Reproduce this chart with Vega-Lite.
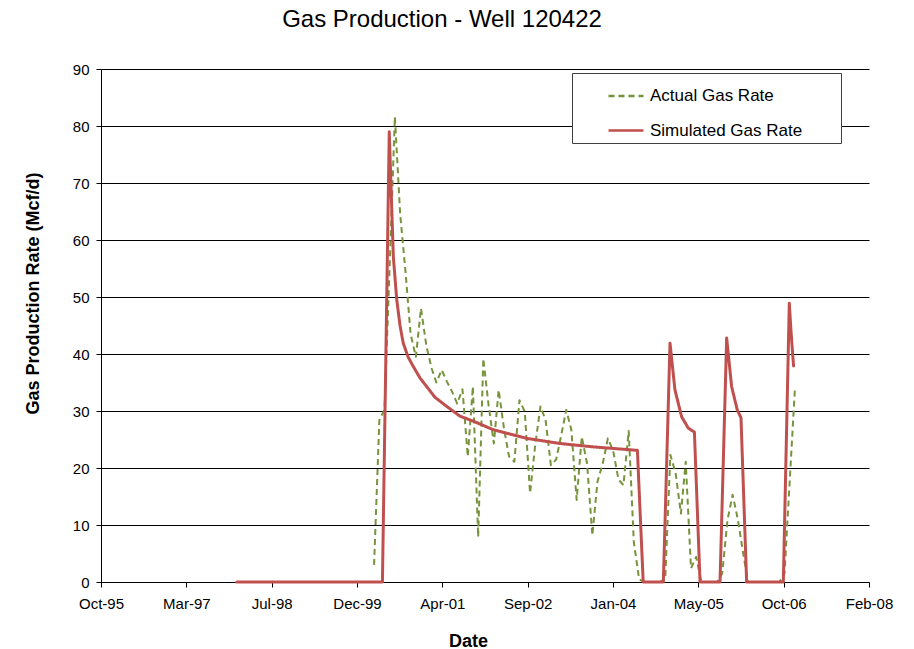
{
  "$schema": "https://vega.github.io/schema/vega-lite/v6.json",
  "width": 768,
  "height": 513,
  "autosize": {"type": "none"},
  "padding": {"left": 101, "top": 69, "right": 45, "bottom": 67},
  "background": "white",
  "config": {
    "font": "Liberation Sans",
    "view": {"stroke": null},
    "legend": {"strokeColor": "#404040"}
  },
  "title": {
    "text": "Gas Production - Well 120422",
    "fontSize": 24,
    "fontWeight": "normal",
    "font": "Liberation Sans",
    "color": "#000",
    "anchor": "middle",
    "dx": -43,
    "offset": 30
  },
  "datasets": {
    "actual": [
      {"series": "Actual Gas Rate", "date": "2000-03-15", "rate": 3},
      {"series": "Actual Gas Rate", "date": "2000-04-15", "rate": 28.4},
      {"series": "Actual Gas Rate", "date": "2000-05-15", "rate": 30.2},
      {"series": "Actual Gas Rate", "date": "2000-06-15", "rate": 56},
      {"series": "Actual Gas Rate", "date": "2000-07-15", "rate": 81.6},
      {"series": "Actual Gas Rate", "date": "2000-08-15", "rate": 64.5},
      {"series": "Actual Gas Rate", "date": "2000-09-15", "rate": 54.5},
      {"series": "Actual Gas Rate", "date": "2000-10-15", "rate": 43.5},
      {"series": "Actual Gas Rate", "date": "2000-11-15", "rate": 39.5},
      {"series": "Actual Gas Rate", "date": "2000-12-15", "rate": 48},
      {"series": "Actual Gas Rate", "date": "2001-01-15", "rate": 41.5},
      {"series": "Actual Gas Rate", "date": "2001-02-15", "rate": 37.5},
      {"series": "Actual Gas Rate", "date": "2001-03-15", "rate": 35},
      {"series": "Actual Gas Rate", "date": "2001-04-15", "rate": 37.2},
      {"series": "Actual Gas Rate", "date": "2001-05-15", "rate": 35.2},
      {"series": "Actual Gas Rate", "date": "2001-06-15", "rate": 33.4},
      {"series": "Actual Gas Rate", "date": "2001-07-15", "rate": 31.3},
      {"series": "Actual Gas Rate", "date": "2001-08-15", "rate": 33.8},
      {"series": "Actual Gas Rate", "date": "2001-09-15", "rate": 22},
      {"series": "Actual Gas Rate", "date": "2001-10-15", "rate": 34.3},
      {"series": "Actual Gas Rate", "date": "2001-11-15", "rate": 7.9},
      {"series": "Actual Gas Rate", "date": "2001-12-15", "rate": 39.2},
      {"series": "Actual Gas Rate", "date": "2002-01-15", "rate": 31},
      {"series": "Actual Gas Rate", "date": "2002-02-15", "rate": 24.3},
      {"series": "Actual Gas Rate", "date": "2002-03-15", "rate": 33.7},
      {"series": "Actual Gas Rate", "date": "2002-04-15", "rate": 27},
      {"series": "Actual Gas Rate", "date": "2002-05-15", "rate": 22},
      {"series": "Actual Gas Rate", "date": "2002-06-15", "rate": 21.1},
      {"series": "Actual Gas Rate", "date": "2002-07-15", "rate": 31.9},
      {"series": "Actual Gas Rate", "date": "2002-08-15", "rate": 29.9},
      {"series": "Actual Gas Rate", "date": "2002-09-15", "rate": 15.6},
      {"series": "Actual Gas Rate", "date": "2002-10-15", "rate": 24},
      {"series": "Actual Gas Rate", "date": "2002-11-15", "rate": 30.8},
      {"series": "Actual Gas Rate", "date": "2002-12-15", "rate": 28.4},
      {"series": "Actual Gas Rate", "date": "2003-01-15", "rate": 20.5},
      {"series": "Actual Gas Rate", "date": "2003-02-15", "rate": 21.5},
      {"series": "Actual Gas Rate", "date": "2003-03-15", "rate": 25.5},
      {"series": "Actual Gas Rate", "date": "2003-04-15", "rate": 30.2},
      {"series": "Actual Gas Rate", "date": "2003-05-15", "rate": 26.7},
      {"series": "Actual Gas Rate", "date": "2003-06-15", "rate": 14.4},
      {"series": "Actual Gas Rate", "date": "2003-07-15", "rate": 25.5},
      {"series": "Actual Gas Rate", "date": "2003-08-15", "rate": 20.8},
      {"series": "Actual Gas Rate", "date": "2003-09-15", "rate": 8.2},
      {"series": "Actual Gas Rate", "date": "2003-10-15", "rate": 17.6},
      {"series": "Actual Gas Rate", "date": "2003-11-15", "rate": 20.8},
      {"series": "Actual Gas Rate", "date": "2003-12-15", "rate": 25.2},
      {"series": "Actual Gas Rate", "date": "2004-01-15", "rate": 23},
      {"series": "Actual Gas Rate", "date": "2004-02-15", "rate": 18},
      {"series": "Actual Gas Rate", "date": "2004-03-15", "rate": 17},
      {"series": "Actual Gas Rate", "date": "2004-04-15", "rate": 26.5},
      {"series": "Actual Gas Rate", "date": "2004-05-15", "rate": 7},
      {"series": "Actual Gas Rate", "date": "2004-06-15", "rate": 0.5},
      {"series": "Actual Gas Rate", "date": "2004-07-15", "rate": 0},
      {"series": "Actual Gas Rate", "date": "2004-08-15", "rate": 0},
      {"series": "Actual Gas Rate", "date": "2004-09-15", "rate": 0},
      {"series": "Actual Gas Rate", "date": "2004-10-15", "rate": 0},
      {"series": "Actual Gas Rate", "date": "2004-11-15", "rate": 0.5},
      {"series": "Actual Gas Rate", "date": "2004-12-15", "rate": 22.3},
      {"series": "Actual Gas Rate", "date": "2005-01-15", "rate": 19.1},
      {"series": "Actual Gas Rate", "date": "2005-02-15", "rate": 12},
      {"series": "Actual Gas Rate", "date": "2005-03-15", "rate": 21.1},
      {"series": "Actual Gas Rate", "date": "2005-04-15", "rate": 2.4},
      {"series": "Actual Gas Rate", "date": "2005-05-15", "rate": 4.4},
      {"series": "Actual Gas Rate", "date": "2005-06-15", "rate": 0},
      {"series": "Actual Gas Rate", "date": "2005-07-15", "rate": 0},
      {"series": "Actual Gas Rate", "date": "2005-08-15", "rate": 0},
      {"series": "Actual Gas Rate", "date": "2005-09-15", "rate": 0},
      {"series": "Actual Gas Rate", "date": "2005-10-15", "rate": 1.5},
      {"series": "Actual Gas Rate", "date": "2005-11-15", "rate": 10.9},
      {"series": "Actual Gas Rate", "date": "2005-12-15", "rate": 15.3},
      {"series": "Actual Gas Rate", "date": "2006-01-15", "rate": 10.9},
      {"series": "Actual Gas Rate", "date": "2006-02-15", "rate": 5},
      {"series": "Actual Gas Rate", "date": "2006-03-15", "rate": 0},
      {"series": "Actual Gas Rate", "date": "2006-04-15", "rate": 0},
      {"series": "Actual Gas Rate", "date": "2006-05-15", "rate": 0},
      {"series": "Actual Gas Rate", "date": "2006-06-15", "rate": 0},
      {"series": "Actual Gas Rate", "date": "2006-07-15", "rate": 0},
      {"series": "Actual Gas Rate", "date": "2006-08-15", "rate": 0},
      {"series": "Actual Gas Rate", "date": "2006-09-15", "rate": 0},
      {"series": "Actual Gas Rate", "date": "2006-10-15", "rate": 1.5},
      {"series": "Actual Gas Rate", "date": "2006-11-15", "rate": 18},
      {"series": "Actual Gas Rate", "date": "2006-12-15", "rate": 34}
    ],
    "simulated": [
      {"series": "Simulated Gas Rate", "date": "1998-01-01", "rate": 0},
      {"series": "Simulated Gas Rate", "date": "2000-05-03", "rate": 0},
      {"series": "Simulated Gas Rate", "date": "2000-06-12", "rate": 79},
      {"series": "Simulated Gas Rate", "date": "2000-06-25", "rate": 67},
      {"series": "Simulated Gas Rate", "date": "2000-07-06", "rate": 57},
      {"series": "Simulated Gas Rate", "date": "2000-07-26", "rate": 49.5},
      {"series": "Simulated Gas Rate", "date": "2000-08-14", "rate": 45},
      {"series": "Simulated Gas Rate", "date": "2000-09-02", "rate": 41.9},
      {"series": "Simulated Gas Rate", "date": "2000-09-30", "rate": 39.5},
      {"series": "Simulated Gas Rate", "date": "2000-10-31", "rate": 37.8},
      {"series": "Simulated Gas Rate", "date": "2000-12-09", "rate": 35.8},
      {"series": "Simulated Gas Rate", "date": "2001-01-17", "rate": 34.3},
      {"series": "Simulated Gas Rate", "date": "2001-03-07", "rate": 32.4},
      {"series": "Simulated Gas Rate", "date": "2001-05-15", "rate": 30.8},
      {"series": "Simulated Gas Rate", "date": "2001-07-31", "rate": 29.1},
      {"series": "Simulated Gas Rate", "date": "2001-10-27", "rate": 28.1},
      {"series": "Simulated Gas Rate", "date": "2002-02-12", "rate": 26.7},
      {"series": "Simulated Gas Rate", "date": "2002-08-26", "rate": 25.2},
      {"series": "Simulated Gas Rate", "date": "2003-03-09", "rate": 24.3},
      {"series": "Simulated Gas Rate", "date": "2003-09-21", "rate": 23.7},
      {"series": "Simulated Gas Rate", "date": "2004-06-05", "rate": 23.1},
      {"series": "Simulated Gas Rate", "date": "2004-07-09", "rate": 0},
      {"series": "Simulated Gas Rate", "date": "2004-11-04", "rate": 0},
      {"series": "Simulated Gas Rate", "date": "2004-12-13", "rate": 41.9},
      {"series": "Simulated Gas Rate", "date": "2005-01-11", "rate": 33.7},
      {"series": "Simulated Gas Rate", "date": "2005-02-19", "rate": 29.0},
      {"series": "Simulated Gas Rate", "date": "2005-03-30", "rate": 27.0},
      {"series": "Simulated Gas Rate", "date": "2005-05-05", "rate": 26.3},
      {"series": "Simulated Gas Rate", "date": "2005-06-07", "rate": 0},
      {"series": "Simulated Gas Rate", "date": "2005-10-02", "rate": 0},
      {"series": "Simulated Gas Rate", "date": "2005-11-10", "rate": 42.8},
      {"series": "Simulated Gas Rate", "date": "2005-12-09", "rate": 34.3},
      {"series": "Simulated Gas Rate", "date": "2006-01-11", "rate": 30.2},
      {"series": "Simulated Gas Rate", "date": "2006-02-02", "rate": 28.8},
      {"series": "Simulated Gas Rate", "date": "2006-03-07", "rate": 0},
      {"series": "Simulated Gas Rate", "date": "2006-10-08", "rate": 0},
      {"series": "Simulated Gas Rate", "date": "2006-11-12", "rate": 48.9},
      {"series": "Simulated Gas Rate", "date": "2006-11-22", "rate": 44},
      {"series": "Simulated Gas Rate", "date": "2006-12-07", "rate": 37.9}
    ]
  },
  "encoding": {
    "x": {
      "field": "date",
      "type": "temporal",
      "title": "Date",
      "scale": {
        "type": "utc",
        "domain": [
          {"year": 1995, "month": 10, "date": 28, "utc": true},
          {"year": 2008, "month": 2, "date": 22, "utc": true}
        ]
      },
      "axis": {
        "values": [
          {"year": 1995, "month": 10, "date": 28, "utc": true},
          {"year": 1997, "month": 3, "date": 11, "utc": true},
          {"year": 1998, "month": 7, "date": 24, "utc": true},
          {"year": 1999, "month": 12, "date": 6, "utc": true},
          {"year": 2001, "month": 4, "date": 19, "utc": true},
          {"year": 2002, "month": 9, "date": 1, "utc": true},
          {"year": 2004, "month": 1, "date": 14, "utc": true},
          {"year": 2005, "month": 5, "date": 28, "utc": true},
          {"year": 2006, "month": 10, "date": 10, "utc": true},
          {"year": 2008, "month": 2, "date": 22, "utc": true}
        ],
        "format": "%b-%y",
        "grid": false,
        "domainColor": "#000",
        "domainWidth": 1,
        "tickColor": "#000",
        "tickSize": 5,
        "labelFont": "Liberation Sans",
        "labelFontSize": 15,
        "labelColor": "#000",
        "labelPadding": 9,
        "labelFlush": false,
        "labelOverlap": false,
        "titleFont": "Liberation Sans",
        "titleFontSize": 18,
        "titleFontWeight": "bold",
        "titleColor": "#000",
        "titleX": 367,
        "titleY": 64,
        "titleAlign": "center",
        "titleBaseline": "alphabetic"
      }
    },
    "y": {
      "field": "rate",
      "type": "quantitative",
      "title": "Gas Production Rate (Mcf/d)",
      "scale": {"domain": [0, 90], "nice": false},
      "axis": {
        "values": [0, 10, 20, 30, 40, 50, 60, 70, 80, 90],
        "grid": true,
        "gridColor": "#000",
        "gridWidth": 1,
        "domainColor": "#000",
        "domainWidth": 1,
        "tickColor": "#000",
        "tickSize": 5,
        "labelFont": "Liberation Sans",
        "labelFontSize": 15,
        "labelColor": "#000",
        "labelPadding": 7,
        "titleFont": "Liberation Sans",
        "titleFontSize": 18,
        "titleFontWeight": "bold",
        "titleColor": "#000",
        "titleAngle": -90,
        "titleX": -63,
        "titleY": 224,
        "titleAlign": "center",
        "titleBaseline": "alphabetic"
      }
    },
    "color": {
      "field": "series",
      "type": "nominal",
      "scale": {
        "domain": ["Actual Gas Rate", "Simulated Gas Rate"],
        "range": ["#77933C", "#C0504D"]
      },
      "legend": {
        "orient": "none",
        "legendX": 471,
        "legendY": 4,
        "title": "MM",
        "titleFontSize": 15,
        "titleOpacity": 0,
        "titleOrient": "right",
        "titlePadding": 10,
        "padding": 4,
        "symbolType": "stroke",
        "symbolSize": 1225,
        "symbolOffset": 31,
        "symbolStrokeWidth": 2.5,
        "labelFont": "Liberation Sans",
        "labelFontSize": 17,
        "labelColor": "#000",
        "labelOffset": 5,
        "rowPadding": 7.5,
        "fillColor": "white",
        "strokeColor": "#404040"
      }
    },
    "strokeDash": {
      "field": "series",
      "type": "nominal",
      "scale": {
        "domain": ["Actual Gas Rate", "Simulated Gas Rate"],
        "range": [[6, 4], [1, 0]]
      },
      "legend": {
        "orient": "none",
        "legendX": 471,
        "legendY": 4,
        "title": "MM",
        "titleFontSize": 15,
        "titleOpacity": 0,
        "titleOrient": "right",
        "titlePadding": 10,
        "padding": 4,
        "symbolType": "stroke",
        "symbolSize": 1225,
        "symbolOffset": 31,
        "symbolStrokeWidth": 2.5,
        "labelFont": "Liberation Sans",
        "labelFontSize": 17,
        "labelColor": "#000",
        "labelOffset": 5,
        "rowPadding": 7.5,
        "fillColor": "white",
        "strokeColor": "#404040"
      }
    }
  },
  "layer": [
    {
      "data": {"name": "actual"},
      "mark": {"type": "line", "strokeWidth": 2, "strokeJoin": "round"}
    },
    {
      "data": {"name": "simulated"},
      "mark": {"type": "line", "strokeWidth": 3, "strokeJoin": "round", "strokeCap": "round"}
    }
  ]
}
